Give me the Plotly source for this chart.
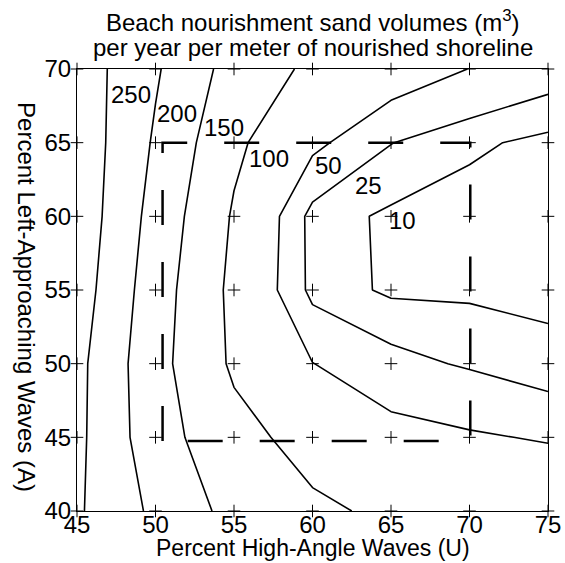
import plotly.graph_objects as go

# ---- data ----
U = [45, 50, 55, 60, 65, 70, 75]          # Percent High-Angle Waves
A = [40, 45, 50, 55, 60, 65, 70]          # Percent Left-Approaching Waves
# nourishment volume (m3 / yr / m) at each (U, A) grid node, one row per A
vol_A40 = [256.3, 189.8, 134.5, 108.2, 91.8, 82.0, 77.5]
vol_A45 = [261.2, 170.6, 115.6, 82.4, 60.0, 53.1, 47.6]
vol_A50 = [263.3, 166.0, 92.6, 50.5, 31.3, 22.6, 11.2]
vol_A55 = [274.7, 172.5, 88.5, 18.7, 7.3, 7.2, 9.0]
vol_A60 = [282.0, 182.0, 95.0, 17.3, 7.2, 3.0, 4.0]
vol_A65 = [282.3, 194.0, 109.4, 57.0, 25.5, 13.0, 5.9]
vol_A70 = [278.0, 205.4, 130.5, 90.9, 68.1, 49.5, 35.0]
levels = [10, 25, 50, 100, 150, 200, 250]
# highlighted region of parameter space (dashed box)
box_U = [50.45, 70.05]
box_A = [44.75, 65.0]

Z = [vol_A40, vol_A45, vol_A50, vol_A55, vol_A60, vol_A65, vol_A70]

FONT = "Liberation Sans, Arial, Helvetica, sans-serif"
FS = 24

fig = go.Figure()

for lv in levels:
    fig.add_trace(go.Contour(
        x=U, y=A, z=Z,
        autocontour=False,
        contours=dict(start=lv, end=lv, size=1, coloring="none", showlabels=False),
        line=dict(color="black", width=1.6, smoothing=0),
        showscale=False, hoverinfo="skip",
    ))

# grid of simulation points (+)
gx = [u for a in A for u in U]
gy = [a for a in A for u in U]
fig.add_trace(go.Scatter(
    x=gx, y=gy, mode="markers", cliponaxis=False,
    marker=dict(symbol="cross-thin", size=9, line=dict(color="black", width=1)),
    hoverinfo="skip",
))

# dashed box
bx = [box_U[0], box_U[0], box_U[1], box_U[1], box_U[0]]
by = [box_A[0], box_A[1], box_A[1], box_A[0], box_A[0]]
fig.add_trace(go.Scatter(
    x=bx, y=by, mode="lines",
    line=dict(color="black", width=2.5, dash="35px,37px"),
    hoverinfo="skip",
))

# contour labels
label_pos = {250: (48.45, 68.25), 200: (51.4, 67.0), 150: (54.35, 66.0),
             100: (57.2, 63.9), 50: (61.05, 63.45), 25: (63.55, 62.1), 10: (65.75, 59.7)}
for lv in levels:
    lx, ly = label_pos[lv]
    fig.add_annotation(x=lx, y=ly, text=str(lv), showarrow=False,
                       font=dict(family=FONT, size=FS, color="black"))

# title (two lines)
PH = 563 - 69 - 52
fig.add_annotation(xref="paper", yref="paper", x=0.5, y=1 + (69 - 21) / PH,
                   text="Beach nourishment sand volumes (m<sup>3</sup>)",
                   showarrow=False, yanchor="middle",
                   font=dict(family=FONT, size=FS, color="black"))
fig.add_annotation(xref="paper", yref="paper", x=0.5, y=1 + (69 - 48) / PH,
                   text="per year per meter of nourished shoreline",
                   showarrow=False, yanchor="middle",
                   font=dict(family=FONT, size=FS, color="black"))

# axis titles
fig.add_annotation(xref="paper", yref="paper", x=0.5, y=-(548 - 511) / PH,
                   text="Percent High-Angle Waves (U)", showarrow=False,
                   yanchor="middle", font=dict(family=FONT, size=23, color="black"))
fig.add_annotation(xref="paper", yref="paper", x=-(77 - 27) / 471, y=0.484,
                   text="Percent Left-Approaching Waves (A)", showarrow=False,
                   textangle=90, xanchor="center", yanchor="middle",
                   font=dict(family=FONT, size=FS, color="black"))

fig.update_layout(
    width=565, height=563,
    margin=dict(l=77, r=17, t=69, b=52, autoexpand=False),
    paper_bgcolor="white", plot_bgcolor="white",
    showlegend=False,
    font=dict(family=FONT, size=FS, color="black"),
    xaxis=dict(range=[45, 75], tickvals=U, showgrid=False, zeroline=False,
               showline=True, mirror=True, linecolor="black", linewidth=1,
               ticks="", tickfont=dict(size=FS), automargin=False,
               ticklabelstandoff=-8),
    yaxis=dict(range=[40, 70], tickvals=A, showgrid=False, zeroline=False,
               showline=True, mirror=True, linecolor="black", linewidth=1,
               ticks="", tickfont=dict(size=FS), automargin=False),
)

fig.write_html("out.html")
